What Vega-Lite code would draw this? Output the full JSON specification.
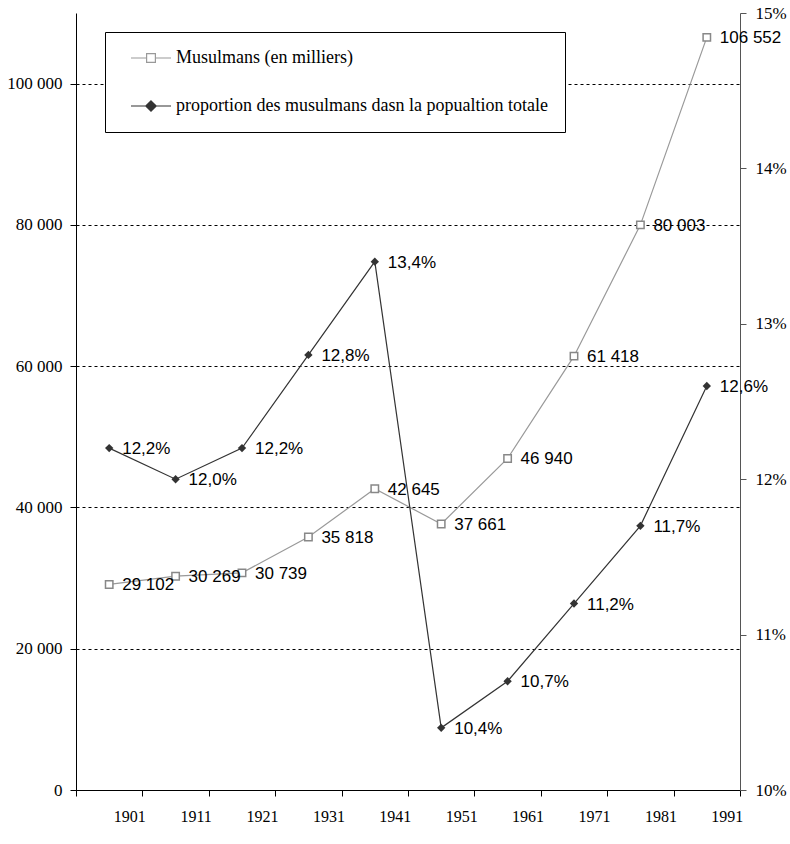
{
  "$schema": "https://vega.github.io/schema/vega-lite/v6.json",
  "width": 664,
  "height": 777,
  "autosize": {"type": "none"},
  "padding": {"left": 76, "top": 13, "right": 50, "bottom": 54},
  "background": "white",
  "config": {
    "view": {"stroke": null},
    "locale": {"number": {"decimal": ",", "thousands": " ", "grouping": [3], "currency": ["", " €"]}},
    "axis": {"labelFont": "Liberation Serif", "labelFontSize": 17, "labelColor": "black", "domainColor": "black", "tickColor": "black", "title": null}
  },
  "data": {"values": [
    {"year": "1901", "musulmans": 29102, "proportion": 0.122},
    {"year": "1911", "musulmans": 30269, "proportion": 0.120},
    {"year": "1921", "musulmans": 30739, "proportion": 0.122},
    {"year": "1931", "musulmans": 35818, "proportion": 0.128},
    {"year": "1941", "musulmans": 42645, "proportion": 0.134},
    {"year": "1951", "musulmans": 37661, "proportion": 0.104},
    {"year": "1961", "musulmans": 46940, "proportion": 0.107},
    {"year": "1971", "musulmans": 61418, "proportion": 0.112},
    {"year": "1981", "musulmans": 80003, "proportion": 0.117},
    {"year": "1991", "musulmans": 106552, "proportion": 0.126}
  ]},
  "encoding": {
    "x": {"field": "year", "type": "ordinal", "scale": {"paddingInner": 0, "paddingOuter": 0},
      "axis": {"tickBand": "extent", "labelAngle": 0, "labelOffset": 20, "labelFontSize": 16, "tickSize": 6, "labelPadding": 12, "title": null, "labelAlign": "center"}}
  },
  "layer": [
    {
      "encoding": {
        "y": {"field": "musulmans", "type": "quantitative", "scale": {"domain": [0, 110000], "nice": false},
          "axis": {"orient": "left", "values": [0, 20000, 40000, 60000, 80000, 100000], "format": ",d", "grid": true, "gridDash": [3, 3], "gridColor": "black", "gridOpacity": 1, "tickSize": 6, "labelPadding": 8, "title": null}}
      },
      "layer": [
        {"mark": {"type": "line", "strokeWidth": 1.2},
          "encoding": {"color": {"datum": "Musulmans (en milliers)", "type": "nominal",
            "scale": {"domain": ["Musulmans (en milliers)", "proportion des musulmans dasn la popualtion totale"], "range": ["#999999", "#333333"]},
            "legend": {"orient": "none", "legendX": 29, "legendY": 19, "title": null, "fillColor": "white", "strokeColor": "black", "padding": 17, "rowPadding": 30, "symbolSize": 256, "symbolOffset": 20, "labelOffset": 16, "labelFont": "Liberation Serif", "labelFontSize": 18, "labelColor": "black", "labelLimit": 600,
              "encode": {"symbols": {"update": {
                "shape": {"signal": "datum.value === 'Musulmans (en milliers)' ? 'M-2.5,0H-0.55M0.55,0H2.5M-0.55,-0.55H0.55V0.55H-0.55Z' : 'M-2.5,0H2.5M0,-0.65L0.65,0L0,0.65L-0.65,0Z'"},
                "fill": {"signal": "datum.value === 'Musulmans (en milliers)' ? 'white' : '#333333'"},
                "stroke": {"signal": "datum.value === 'Musulmans (en milliers)' ? '#999999' : '#333333'"},
                "strokeWidth": {"value": 1.2},
                "opacity": {"value": 1},
                "fillOpacity": {"value": 1},
                "strokeOpacity": {"value": 1}
              }}}}}}},
        {"mark": {"type": "point", "shape": "square", "filled": true, "fill": "white", "stroke": "#888888", "strokeWidth": 1.5, "size": 55, "opacity": 1}},
        {"mark": {"type": "text", "align": "left", "baseline": "middle", "dx": 13, "dy": 1, "font": "Liberation Sans", "fontSize": 17, "color": "black"},
          "encoding": {"text": {"field": "musulmans", "type": "quantitative", "format": ",d"}}}
      ]
    },
    {
      "encoding": {
        "y": {"field": "proportion", "type": "quantitative", "scale": {"domain": [0.10, 0.15], "nice": false, "zero": false},
          "axis": {"orient": "right", "values": [0.10, 0.11, 0.12, 0.13, 0.14, 0.15], "format": ".0%", "grid": false, "tickSize": 6, "labelPadding": 9, "domainColor": "#555555", "tickColor": "#555555", "title": null}}
      },
      "layer": [
        {"mark": {"type": "line", "strokeWidth": 1.2},
          "encoding": {"color": {"datum": "proportion des musulmans dasn la popualtion totale", "type": "nominal"}}},
        {"mark": {"type": "point", "shape": "diamond", "filled": true, "color": "#333333", "size": 70, "opacity": 1}},
        {"mark": {"type": "text", "align": "left", "baseline": "middle", "dx": 13, "dy": 1, "font": "Liberation Sans", "fontSize": 17, "color": "black"},
          "encoding": {"text": {"field": "proportion", "type": "quantitative", "format": ".1%"}}}
      ]
    }
  ],
  "resolve": {"scale": {"y": "independent"}}
}
